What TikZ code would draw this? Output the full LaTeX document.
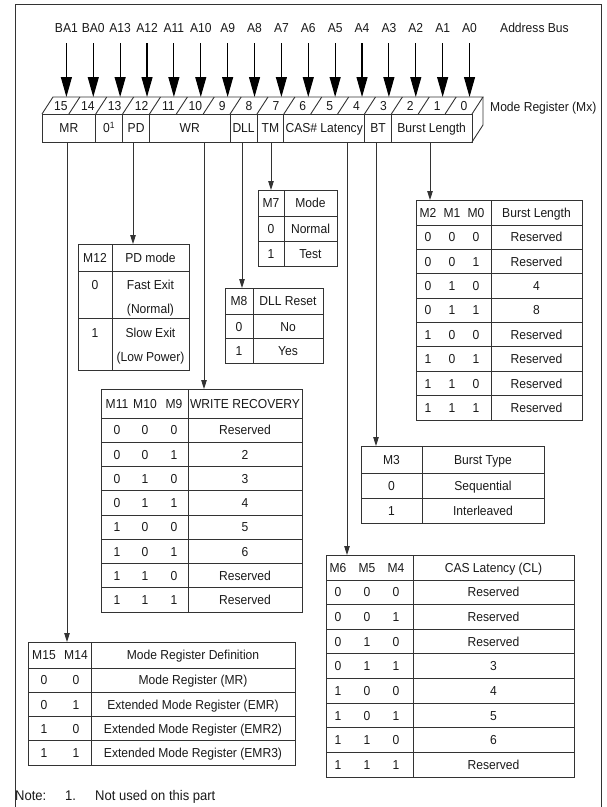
\documentclass[tikz,border=0pt]{standalone}
\usepackage{fontspec}
\setmainfont{Liberation Sans}[FakeStretch=0.93]
\usetikzlibrary{arrows.meta}
\newcommand\tfs{\fontsize{13}{15}\selectfont}
\newcommand\nfs{\fontsize{14}{16}\selectfont}
\tikzset{
  tl/.style={draw=black!80,line width=0.9pt},
  tframe/.style={draw=black!80,line width=0.9pt,inner sep=0pt,outer sep=0pt,rectangle},
  tt/.style={inner sep=0pt,text height=9.3pt,text depth=0pt,font=\tfs,text=black!90},
  nt/.style={inner sep=0pt,text height=10pt,text depth=0pt,font=\nfs,text=black!90,anchor=west},
  conn/.style={draw=black!80,line width=0.9pt,-{Triangle[length=9pt,width=5.5pt]}},
  busarrow/.style={draw=black,line width=1.1pt,-{Triangle[length=20pt,width=11pt]}},
}
\newcommand\mktable[8]{%
  \node[tframe,anchor=north west,minimum width={#4-#2},minimum height={#7-#5}] (#1) at (#2,#5) {};
  \draw[tl] (#3,#5) -- (#3,#7);
  \draw[tl] (#2,#6) -- (#4,#6);
  \foreach \i in {1,...,#8}{%
    \pgfmathsetmacro\yy{#6+(#7-#6)*\i/(#8+1)}%
    \draw[tl] (#2,\yy) -- (#4,\yy);
  }%
}
\begin{document}
\begin{tikzpicture}[x=1pt,y=-1pt]
\useasboundingbox (0,0) rectangle (606,807);
% outer frame
\draw[tl] (15,807) -- (15,4) -- (601,4) -- (601,807);
% address bus
\foreach \lab [count=\k from 0] in {BA1,BA0,A13,A12,A11,A10,A9,A8,A7,A6,A5,A4,A3,A2,A1,A0}{
  \pgfmathsetmacro\xx{66.4+26.875*\k}
  \node[tt] (ab\k) at (\xx,28) {\lab};
  \coordinate (abs\k) at (\xx,43);
  \coordinate (abt\k) at (\xx,97);
  \draw[busarrow] (abs\k) -- (abt\k);
}
\node[tt,anchor=west] (abus) at (500,28) {Address Bus};
% register box
\node[tframe,anchor=north west,minimum width=430,minimum height=28] (reg) at (42,114) {};
\draw[tl] (42,114) -- (53,97) -- (483,97) -- (472,114);
\draw[tl] (483,97) -- (483,125) -- (472,142);
\foreach \k in {1,...,15}{
  \draw[tl] (42+26.875*\k,114) -- (53+26.875*\k,97);
}
\foreach \n [count=\k from 0] in {15,14,13,12,11,10,9,8,7,6,5,4,3,2,1,0}{
  \node[tt] (bit\n) at (42+26.875*\k+13.44+5.5,106) {\n};
}
\foreach \k in {2,3,4,7,8,9,12,13}{
  \draw[tl] (42+26.875*\k,114) -- (42+26.875*\k,142);
}
\node[tt] (cMR) at (68.9,128) {MR};
\node[tt] (cZ) at (109.2,128) {0\textsuperscript{1}};
\node[tt] (cPD) at (136.1,128) {PD};
\node[tt] (cWR) at (189.8,128) {WR};
\node[tt] (cDLL) at (243.6,128) {DLL};
\node[tt] (cTM) at (270.4,128) {TM};
\node[tt] (cCAS) at (324.2,128) {CAS\# Latency};
\node[tt] (cBT) at (378,128) {BT};
\node[tt] (cBL) at (431.7,128) {Burst Length};
\node[tt,anchor=west] (mrx) at (490,107) {Mode Register (Mx)};

% ---- Burst length table
\mktable{tBL}{416}{491}{582}{200}{225}{420}{7}
\node[tt] (blh1) at (428,212.5) {M2};
\node[tt] (blh2) at (452,212.5) {M1};
\node[tt] (blh3) at (476,212.5) {M0};
\node[tt] (blh4) at (536.5,212.5) {Burst Length};
\foreach \a/\b/\c/\v [count=\i] in {0/0/0/Reserved,0/0/1/Reserved,0/1/0/4,0/1/1/8,1/0/0/Reserved,1/0/1/Reserved,1/1/0/Reserved,1/1/1/Reserved}{
  \pgfmathsetmacro\yy{225+24.375*(\i-0.5)}
  \node[tt] (bla\i) at (428,\yy) {\a};
  \node[tt] (blb\i) at (452,\yy) {\b};
  \node[tt] (blc\i) at (476,\yy) {\c};
  \node[tt] (blv\i) at (536.5,\yy) {\v};
}

% ---- M7 table
\mktable{tTM}{258}{284}{337}{190}{216}{266}{1}
\node[tt] (tmh1) at (271,203) {M7};
\node[tt] (tmh2) at (310.5,203) {Mode};
\node[tt] (tma1) at (271,228.5) {0};
\node[tt] (tmv1) at (310.5,228.5) {Normal};
\node[tt] (tma2) at (271,253.5) {1};
\node[tt] (tmv2) at (310.5,253.5) {Test};

% ---- M8 table
\mktable{tDLL}{225}{253}{323}{288}{314}{363}{1}
\node[tt] (dlh1) at (239,301) {M8};
\node[tt] (dlh2) at (288,301) {DLL Reset};
\node[tt] (dla1) at (239,326.5) {0};
\node[tt] (dlv1) at (288,326.5) {No};
\node[tt] (dla2) at (239,351) {1};
\node[tt] (dlv2) at (288,351) {Yes};

% ---- PD table
\node[tframe,anchor=north west,minimum width=111,minimum height=126] (tPD) at (78,244) {};
\draw[tl] (112,244) -- (112,370);
\draw[tl] (78,271) -- (189,271);
\draw[tl] (78,318) -- (189,318);
\node[tt] (pdh1) at (95,257.5) {M12};
\node[tt] (pdh2) at (150.5,257.5) {PD mode};
\node[tt] (pda1) at (95,285) {0};
\node[tt] (pdv1) at (150.5,285) {Fast Exit};
\node[tt] (pdw1) at (150.5,308.5) {(Normal)};
\node[tt] (pda2) at (95,333) {1};
\node[tt] (pdv2) at (150.5,333) {Slow Exit};
\node[tt] (pdw2) at (150.5,357) {(Low Power)};

% ---- WR table
\mktable{tWR}{101}{188}{302}{389}{418}{612}{7}
\node[tt] (wrh1) at (117,403.5) {M11};
\node[tt] (wrh2) at (145,403.5) {M10};
\node[tt] (wrh3) at (174,403.5) {M9};
\node[tt] (wrh4) at (245,403.5) {WRITE RECOVERY};
\foreach \a/\b/\c/\v [count=\i] in {0/0/0/Reserved,0/0/1/2,0/1/0/3,0/1/1/4,1/0/0/5,1/0/1/6,1/1/0/Reserved,1/1/1/Reserved}{
  \pgfmathsetmacro\yy{418+24.25*(\i-0.5)}
  \node[tt] (wra\i) at (117,\yy) {\a};
  \node[tt] (wrb\i) at (145,\yy) {\b};
  \node[tt] (wrc\i) at (174,\yy) {\c};
  \node[tt] (wrv\i) at (245,\yy) {\v};
}

% ---- BT table
\mktable{tBT}{361}{422}{544}{446}{473}{523}{1}
\node[tt] (bth1) at (391.5,459.5) {M3};
\node[tt] (bth2) at (483,459.5) {Burst Type};
\node[tt] (bta1) at (391.5,486) {0};
\node[tt] (btv1) at (483,486) {Sequential};
\node[tt] (bta2) at (391.5,511) {1};
\node[tt] (btv2) at (483,511) {Interleaved};

% ---- CAS table
\mktable{tCAS}{326}{413}{574}{555}{580}{777}{7}
\node[tt] (cah1) at (338,567.5) {M6};
\node[tt] (cah2) at (367,567.5) {M5};
\node[tt] (cah3) at (396,567.5) {M4};
\node[tt] (cah4) at (493.5,567.5) {CAS Latency (CL)};
\foreach \a/\b/\c/\v [count=\i] in {0/0/0/Reserved,0/0/1/Reserved,0/1/0/Reserved,0/1/1/3,1/0/0/4,1/0/1/5,1/1/0/6,1/1/1/Reserved}{
  \pgfmathsetmacro\yy{580+24.625*(\i-0.5)}
  \node[tt] (caa\i) at (338,\yy) {\a};
  \node[tt] (cab\i) at (367,\yy) {\b};
  \node[tt] (cac\i) at (396,\yy) {\c};
  \node[tt] (cav\i) at (493.5,\yy) {\v};
}

% ---- MR definition table
\mktable{tMR}{28}{91}{295}{642}{668}{765}{3}
\node[tt] (mrh1) at (44,655) {M15};
\node[tt] (mrh2) at (76,655) {M14};
\node[tt] (mrh3) at (193,655) {Mode Register Definition};
\foreach \a/\b/\v [count=\i] in {0/0/Mode Register (MR),0/1/Extended Mode Register (EMR),1/0/Extended Mode Register (EMR2),1/1/Extended Mode Register (EMR3)}{
  \pgfmathsetmacro\yy{668+24.25*(\i-0.5)}
  \node[tt] (mra\i) at (44,\yy) {\a};
  \node[tt] (mrb\i) at (76,\yy) {\b};
  \node[tt] (mrv\i) at (193,\yy) {\v};
}

% ---- connectors
\coordinate (xMR) at (67,0);
\coordinate (xPD) at (133,0);
\coordinate (xWR) at (204,0);
\coordinate (xDLL) at (242,0);
\coordinate (xTM) at (271,0);
\coordinate (xCAS) at (347,0);
\coordinate (xBT) at (376,0);
\coordinate (xBL) at (430,0);
\draw[conn] (xMR |- reg.south) -- (xMR |- tMR.north);
\draw[conn] (xPD |- reg.south) -- (xPD |- tPD.north);
\draw[conn] (xWR |- reg.south) -- (xWR |- tWR.north);
\draw[conn] (xDLL |- reg.south) -- (xDLL |- tDLL.north);
\draw[conn] (xTM |- reg.south) -- (xTM |- tTM.north);
\draw[conn] (xCAS |- reg.south) -- (xCAS |- tCAS.north);
\draw[conn] (xBT |- reg.south) -- (xBT |- tBT.north);
\draw[conn] (xBL |- reg.south) -- (xBL |- tBL.north);

% ---- note
\node[nt] (note1) at (15,795) {Note:};
\node[nt] (note2) at (65,795) {1.};
\node[nt] (note3) at (95,795) {Not used on this part};
\end{tikzpicture}
\end{document}
